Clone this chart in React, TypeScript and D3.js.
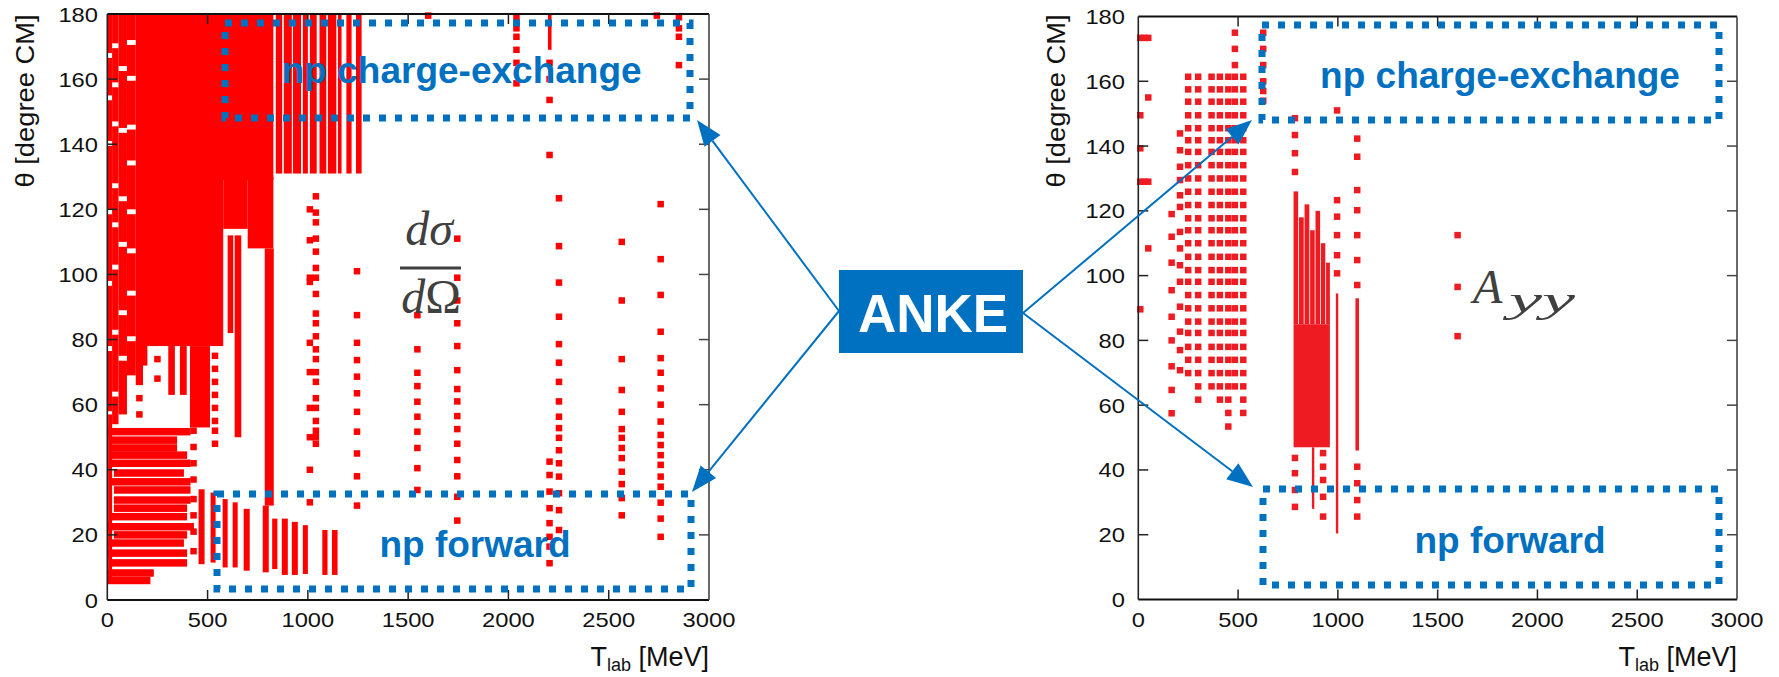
import React from 'react';
import * as d3 from 'd3';

const W = 1779;
const H = 677;

// ---------- axis ticks ----------
const energyTicks = [0, 500, 1000, 1500, 2000, 2500, 3000];
const angleTicks = [0, 20, 40, 60, 80, 100, 120, 140, 160, 180];

// ---------- dσ/dΩ database (left panel) ----------
// dense coverage blocks: [T0, T1, θ0, θ1]
const dsigmaBlocks: [number, number, number, number][] = [
  [178, 828, 129, 180],
  [840, 872, 131, 180], [880, 920, 131, 180], [926, 966, 131, 180], [975, 1000, 131, 180],
  [1010, 1044, 131, 180], [1058, 1092, 131, 180], [1100, 1142, 131, 180], [1150, 1168, 131, 180],
  [1192, 1218, 131, 180], [1240, 1268, 131, 180],
  // low-energy patchy region
  [0, 24, 168, 180], [0, 24, 155, 166.5], [0, 24, 141, 153.5], [0, 24, 120, 139.5], [0, 24, 98, 118.5],
  [0, 24, 78, 96.5], [0, 24, 58, 76.5], [4, 24, 6, 57],
  [24, 56, 171, 180], [24, 56, 159, 169.5], [24, 56, 147, 157.5], [24, 56, 128, 145.5], [24, 56, 116, 126.5],
  [24, 56, 103, 114.5], [24, 56, 83, 101.5], [24, 56, 64, 81.5], [24, 56, 54, 62.5],
  [56, 98, 164, 180], [56, 98, 145, 162.5], [56, 98, 124, 143.5], [56, 98, 110, 122.5], [56, 98, 89, 108.5],
  [56, 98, 75, 87.5], [56, 98, 57, 73.5],
  [98, 142, 172, 180], [98, 142, 161, 170.5], [98, 142, 146, 159.5], [98, 142, 135, 144.5],
  [98, 142, 120, 133.5], [98, 142, 108, 118.5], [98, 142, 95, 106.5], [98, 142, 81, 93.5], [98, 142, 69, 79.5],
  [142, 178, 66, 180], [142, 200, 72, 80],
  // body below the diagonal
  [178, 578, 78, 131], [578, 700, 114, 130], [700, 828, 108, 130],
  [600, 628, 82, 112], [635, 668, 50, 112], [785, 830, 29, 108],
  [304, 337, 63, 78], [362, 396, 63, 78], [412, 512, 53, 78],
  // forward-angle columns
  [455, 485, 11, 34], [515, 540, 11.5, 33], [575, 600, 10, 31], [625, 650, 10, 30], [680, 710, 9, 28],
  [775, 805, 8.5, 29], [822, 848, 9.5, 25], [870, 900, 7.7, 25], [920, 950, 7.7, 24], [975, 1000, 8, 23],
  [1072, 1098, 7.7, 21.5], [1120, 1148, 7.7, 21.5],
  [2197, 2215, 169, 180],
];

// horizontal bands at low energy: [θ, T0, T1]
const dsigmaStripes: [number, number, number][] = [
  [51.7, 0, 415], [49.1, 16, 348], [46.7, 16, 348], [44.5, 16, 398], [42, 16, 415], [39, 33, 382],
  [36.3, 16, 415], [33.8, 33, 415], [30.7, 33, 415], [28.2, 33, 398], [25.6, 16, 398], [22.5, 0, 432],
  [20, 33, 398], [17.5, 0, 382], [14.4, 0, 398], [11.4, 16, 398], [8.3, 0, 232], [6, 0, 215],
];

// isolated measurements: energy and its angles
const dsigmaColumns: { T: number; theta: number[] }[] = [
  { T: 196, theta: [6] },
  { T: 160, theta: [62, 57] },
  { T: 250, theta: [74, 68] },
  { T: 430, theta: [52, 47, 42, 37, 31, 26, 21, 15] },
  { T: 537, theta: [75, 71, 67, 63, 59, 55, 52, 48] },
  { T: 1010, theta: [120, 110.5, 99, 97.7, 79, 70, 59, 50, 40, 30] },
  { T: 1040, theta: [124, 119, 116, 111, 107, 102, 99, 94, 88, 85, 81, 77, 74, 70, 67, 62, 59, 55, 52, 50, 48] },
  { T: 1245, theta: [101, 87.5, 79, 73.7, 68.6, 63.5, 57.8, 51.7, 45, 38, 29] },
  { T: 1546, theta: [87.5, 77, 69.8, 65.7, 60.9, 56.3, 51.7, 46.7, 40.5, 33.8] },
  { T: 1600, theta: [179.5] },
  { T: 1745, theta: [111, 99, 92, 85, 78, 70.6, 64.8, 61, 56.5, 52.5, 48, 43, 38, 31.7, 24.4] },
  { T: 2040, theta: [179, 175.6, 173, 169, 165, 158.7] },
  { T: 2205, theta: [165, 160, 153.6, 136.7, 42.5, 38.4, 33.3, 28.2, 23.6, 19.4, 16.4, 11.3] },
  { T: 2252, theta: [123.4, 108.7, 97.5, 87, 78.6, 72.9, 67, 61, 56.3, 52.8, 49.8, 46, 42, 37.9, 32.8, 27.6, 21.5] },
  { T: 2565, theta: [110, 92, 74, 64.5, 57.8, 52.5, 49.8, 46.7, 43.6, 39.4, 35.6, 31.3, 26] },
  { T: 2740, theta: [179.5] },
  { T: 2759, theta: [121.6, 104.7, 93.7, 82.4, 74.3, 69.8, 65, 60, 54.8, 50.7, 47.6, 44.5, 41.5, 37.9, 34.8, 29.9, 25, 19.4] },
  { T: 2850, theta: [179, 175.6, 173, 164.3] },
];

// ---------- A_yy database (right panel) ----------
const ayyBlocks: [number, number, number, number][] = [
  [778, 960, 47, 85],
  [778, 801, 85, 126], [805, 829, 85, 118], [833, 857, 85, 122], [861, 884, 85, 114],
  [888, 911, 85, 120], [915, 937, 85, 110], [941, 960, 85, 104],
  [870, 882, 28, 47], [990, 1002, 20.4, 94.5], [1088, 1106, 46, 93],
];

// angular bins of the low-energy grid
const ayyGridAngles = [161.4, 157.5, 153.7, 149.5, 145.5, 141.8, 138.2, 134.1, 130, 125.9, 121.8, 117.7, 114, 110,
  105.8, 101.7, 98.1, 94, 89.9, 85.8, 82.3, 78, 74, 69.9, 65.8, 61.7, 57.6, 53.4];
// energies of the grid and the angular range covered by each
const ayyGridEnergies = [250, 300, 367, 409, 451, 484, 526];
const ayyGridLow = [68, 60, 62, 60, 52, 62, 57];
const ayyGridHigh = [162, 162, 162, 162, 162, 162, 162];

const ayyColumns: { T: number; theta: number[] }[] = [
  { T: 10, theta: [173.4, 149.5, 139.3, 129, 89.6] },
  { T: 30, theta: [173.4, 129] },
  { T: 50, theta: [173.4, 155, 129, 108.4] },
  { T: 167, theta: [119, 112, 104, 95.5, 87.3, 80, 72, 64.7, 57.5] },
  { T: 209, theta: [143.9, 138.7, 133.6, 129.5, 124.8, 121.2, 113.5, 108.4, 103.2, 98.1, 90.4, 82.7, 77, 70.8] },
  { T: 484, theta: [175, 170, 165] },
  { T: 626, theta: [175, 170, 165, 160, 157, 154] },
  { T: 785, theta: [148.6, 143.4, 137.8, 132, 43.7, 39, 33.8, 28.6] },
  { T: 926, theta: [45.2, 41, 36.9, 31.7, 25.6] },
  { T: 996, theta: [151, 123.3, 118.2, 112.5, 106.3, 100.7] },
  { T: 1097, theta: [142.3, 136.7, 126.4, 120.2, 112.5, 104.8, 97.1, 41, 35.9, 30.7, 25.6] },
  { T: 1600, theta: [112.5, 96.5, 81.3] },
];

// ---------- layout ----------
const xL = d3.scaleLinear().domain([0, 3000]).range([107.3, 709]);
const yL = d3.scaleLinear().domain([0, 180]).range([600, 14]);
const xR = d3.scaleLinear().domain([0, 3000]).range([1138.3, 1737]);
const yR = d3.scaleLinear().domain([0, 180]).range([599.5, 16.5]);

const BLUE = '#0070c0';
const SANS = '"Liberation Sans", Arial, sans-serif';
const SERIF = '"Liberation Serif", "DejaVu Serif", serif';

type Scale = d3.ScaleLinear<number, number>;

function Marks({ x, y, blocks, stripes, columns, color, size }: {
  x: Scale; y: Scale; blocks: [number, number, number, number][]; stripes: [number, number, number][];
  columns: { T: number; theta: number[] }[]; color: string; size: number;
}) {
  const hs = 1.15;
  return (
    <g>
      {blocks.map((b, i) => (
        <rect key={'b' + i} x={x(b[0])} y={y(b[3])} width={x(b[1]) - x(b[0])} height={y(b[2]) - y(b[3])} fill={color} />
      ))}
      {stripes.map((s, i) => (
        <rect key={'s' + i} x={x(s[1])} y={y(s[0] + hs)} width={x(s[2]) - x(s[1])} height={y(s[0] - hs) - y(s[0] + hs)} fill={color} />
      ))}
      {columns.map((c, i) =>
        c.theta.map((t, j) => (
          <rect key={'p' + i + '_' + j} x={x(c.T) - size / 2} y={y(t) - size / 2} width={size} height={size} fill={color} />
        ))
      )}
    </g>
  );
}

function Axes({ x, y, labelRight }: { x: Scale; y: Scale; labelRight: number }) {
  const [x0, x1] = x.range();
  const [y0, y1] = y.range();
  const tl = 10;
  return (
    <g>
      <line x1={x0} x2={x1} y1={y1} y2={y1} stroke="#111" strokeWidth={2} />
      <line x1={x0} x2={x1} y1={y0} y2={y0} stroke="#111" strokeWidth={2} />
      <line x1={x0} x2={x0} y1={y0} y2={y1} stroke="#222" strokeWidth={1.6} />
      <line x1={x1} x2={x1} y1={y0} y2={y1} stroke="#444" strokeWidth={1.6} />
      {energyTicks.slice(1, -1).map((t) => (
        <g key={'xt' + t}>
          <line x1={x(t)} x2={x(t)} y1={y0} y2={y0 - tl} stroke="#222" strokeWidth={1.5} />
          <line x1={x(t)} x2={x(t)} y1={y1} y2={y1 + tl} stroke="#222" strokeWidth={1.5} />
        </g>
      ))}
      {angleTicks.slice(1, -1).map((t) => (
        <g key={'yt' + t}>
          <line x1={x0} x2={x0 + tl} y1={y(t)} y2={y(t)} stroke="#222" strokeWidth={1.5} />
          <line x1={x1} x2={x1 - tl} y1={y(t)} y2={y(t)} stroke="#444" strokeWidth={1.5} />
        </g>
      ))}
      {energyTicks.map((t) => (
        <text key={'xl' + t} transform={`translate(${x(t)},${627}) scale(1.13,1)`} textAnchor="middle"
          fontFamily={SANS} fontSize={21} fill="#111">{t}</text>
      ))}
      {angleTicks.map((t) => (
        <text key={'yl' + t} transform={`translate(${labelRight},${y(t) + 7.5}) scale(1.13,1)`} textAnchor="end"
          fontFamily={SANS} fontSize={21} fill="#111">{t}</text>
      ))}
    </g>
  );
}

function Titles({ x, titleX }: { x: Scale; titleX: number }) {
  const xr = x.range()[1];
  return (
    <g fontFamily={SANS} fill="#111">
      <text x={xr} y={666} textAnchor="end" fontSize={27}>
        T<tspan dy={5} fontSize={18}>lab</tspan><tspan dy={-5}> [MeV]</tspan>
      </text>
      <text transform={`translate(${titleX},101) rotate(-90)`} textAnchor="middle" dominantBaseline="central"
        fontSize={26} textLength={173} lengthAdjust="spacingAndGlyphs">θ [degree CM]</text>
    </g>
  );
}

function DashedBox({ x0, y0, x1, y1 }: { x0: number; y0: number; x1: number; y1: number }) {
  return <rect x={x0} y={y0} width={x1 - x0} height={y1 - y0} fill="none" stroke={BLUE} strokeWidth={7} strokeDasharray="7 9" />;
}

function Arrow({ x1, y1, x2, y2 }: { x1: number; y1: number; x2: number; y2: number }) {
  const a = Math.atan2(y2 - y1, x2 - x1);
  const L = 26;
  const hw = 10;
  const bx = x2 - L * Math.cos(a);
  const by = y2 - L * Math.sin(a);
  const px = -Math.sin(a);
  const py = Math.cos(a);
  return (
    <g>
      <line x1={x1} y1={y1} x2={bx} y2={by} stroke={BLUE} strokeWidth={2} />
      <polygon points={`${x2},${y2} ${bx + hw * px},${by + hw * py} ${bx - hw * px},${by - hw * py}`} fill={BLUE} />
    </g>
  );
}

export default function App() {
  const gridCols = ayyGridEnergies.map((T, i) => ({
    T,
    theta: ayyGridAngles.filter((a) => a >= ayyGridLow[i] && a <= ayyGridHigh[i]),
  }));
  return (
    <svg width={W} height={H} viewBox={`0 0 ${W} ${H}`}
      style={{ position: 'absolute', left: 0, top: 0, display: 'block', background: '#fff' }}>
      <rect width={W} height={H} fill="#fff" />
      {/* left panel */}
      <Marks x={xL} y={yL} blocks={dsigmaBlocks} stripes={dsigmaStripes} columns={dsigmaColumns} color="#ff0000" size={6.5} />
      <Axes x={xL} y={yL} labelRight={98} />
      <Titles x={xL} titleX={25} />
      {/* right panel */}
      <Marks x={xR} y={yR} blocks={ayyBlocks} stripes={[]} columns={[...ayyColumns, ...gridCols]} color="#ee1c22" size={6.5} />
      <Axes x={xR} y={yR} labelRight={1125} />
      <Titles x={xR} titleX={1056} />

      {/* math labels */}
      <g fill="#404040" fontFamily={SERIF}>
        <text x={429} y={245} textAnchor="middle" fontSize={48} fontStyle="italic">dσ</text>
        <rect x={400} y={266.5} width={61} height={3} />
        <text x={431} y={313} textAnchor="middle" fontSize={48}><tspan fontStyle="italic">d</tspan>Ω</text>
        <text x={1473} y={303} fontSize={48} fontStyle="italic">A</text>
        <text x={1509} y={312} fontSize={36} fontStyle="italic" textLength={66} lengthAdjust="spacingAndGlyphs">yy</text>
      </g>

      {/* dashed regions */}
      <DashedBox x0={225} y0={23} x1={690} y1={118} />
      <DashedBox x0={217} y0={494} x1={691} y1={589} />
      <DashedBox x0={1262} y0={25} x1={1719} y1={120} />
      <DashedBox x0={1263} y0={489} x1={1719} y1={585} />
      <g fontFamily={SANS} fontWeight="bold" fontSize={37} fill={BLUE} textAnchor="middle">
        <text x={461.7} y={83.3}>np charge-exchange</text>
        <text x={475} y={556.7}>np forward</text>
        <text x={1500} y={88.3}>np charge-exchange</text>
        <text x={1510} y={553.3}>np forward</text>
      </g>

      {/* arrows */}
      <Arrow x1={839} y1={311} x2={697} y2={120} />
      <Arrow x1={839} y1={311} x2={692} y2={492} />
      <Arrow x1={1023} y1={313} x2={1252} y2={120} />
      <Arrow x1={1023} y1={313} x2={1253} y2={487} />

      {/* ANKE label */}
      <rect x={839} y={270} width={184} height={83} fill={BLUE} />
      <text x={933} y={331.5} textAnchor="middle" fontFamily={SANS} fontWeight="bold" fontSize={53} fill="#fff">ANKE</text>
    </svg>
  );
}
